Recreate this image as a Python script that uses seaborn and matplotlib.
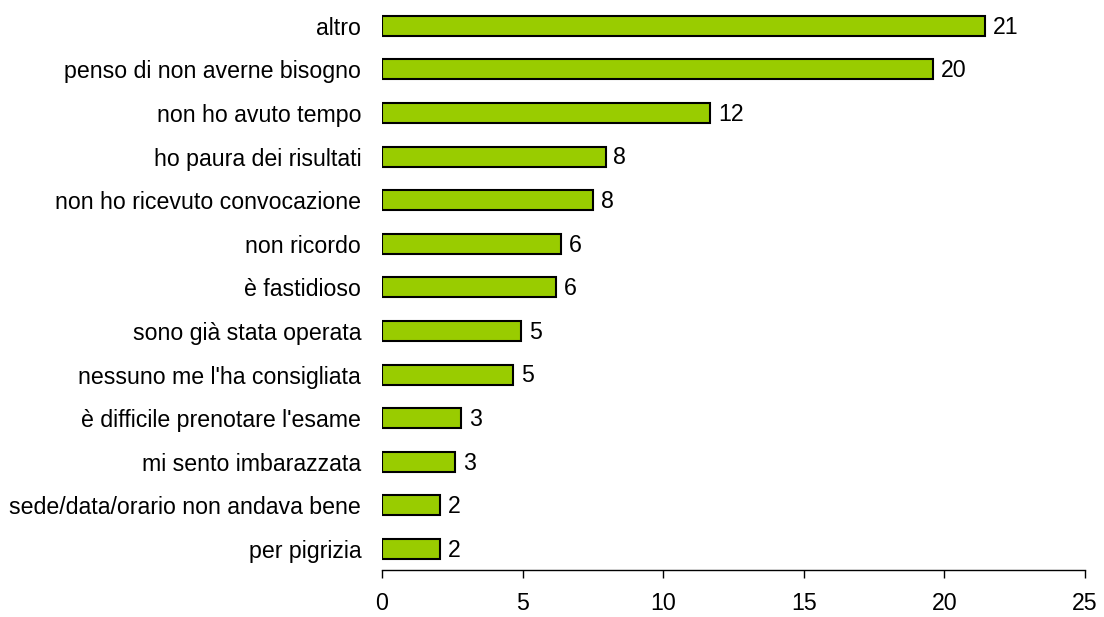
import matplotlib
matplotlib.use("Agg")
import matplotlib.pyplot as plt
import seaborn as sns
import pandas as pd

categories = [
    "altro",
    "penso di non averne bisogno",
    "non ho avuto tempo",
    "ho paura dei risultati",
    "non ho ricevuto convocazione",
    "non ricordo",
    "è fastidioso",
    "sono già stata operata",
    "nessuno me l'ha consigliata",
    "è difficile prenotare l'esame",
    "mi sento imbarazzata",
    "sede/data/orario non andava bene",
    "per pigrizia",
]
values = [21.45, 19.58, 11.66, 7.95, 7.5, 6.36, 6.20, 4.94, 4.67, 2.81, 2.60, 2.07, 2.07]
xticks = [0, 5, 10, 15, 20, 25]

sns.set_theme(style="white")
plt.rcParams["font.family"] = ["Liberation Sans", "DejaVu Sans"]

df = pd.DataFrame({"cat": categories, "val": values})

fig = plt.figure(figsize=(11.04, 6.17), dpi=100)
ax = fig.add_axes([382 / 1104, 47 / 617, (1085 - 382) / 1104, (570 - 4) / 617])

sns.barplot(data=df, x="val", y="cat", orient="h", color="#99CC00",
            saturation=1, width=0.46, edgecolor="black", linewidth=1.5, ax=ax)

for i, v in enumerate(values):
    ax.text(v + 0.28, i + 0.03, f"{v:.0f}", va="center", ha="left", fontsize=16.7, color="black")

ax.set_xlim(0, 25)
ax.set_ylim(12.48, -0.5)
ax.set_xticks(xticks)
ax.set_xticklabels([str(t) for t in xticks])
ax.set_xlabel("")
ax.set_ylabel("")
for s in ["top", "right", "left"]:
    ax.spines[s].set_visible(False)
ax.spines["bottom"].set_color("black")
ax.spines["bottom"].set_linewidth(1.0)
ax.tick_params(axis="x", which="both", bottom=True, length=6, width=1.0, color="black",
               direction="out", labelsize=16.7, pad=10, labelcolor="black")
ax.tick_params(axis="y", length=0, labelsize=16.7, pad=15, labelcolor="black")

fig.savefig("out.png", dpi=100)
